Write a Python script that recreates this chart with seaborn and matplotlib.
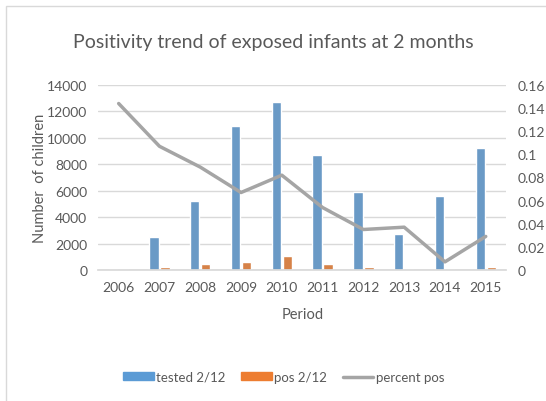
import numpy as np
import pandas as pd
import matplotlib
matplotlib.use("Agg")
import matplotlib.pyplot as plt
import seaborn as sns
from matplotlib.patches import Patch, Rectangle
from matplotlib.lines import Line2D

# 数据
years = ["2006", "2007", "2008", "2009", "2010", "2011", "2012", "2013", "2014", "2015"]
tested = [0, 2500, 5200, 10900, 12700, 8700, 5900, 2750, 5600, 9200]
pos = [0, 200, 450, 600, 1030, 450, 200, 0, 0, 200]
percent_pos = [0.144, 0.107, 0.089, 0.067, 0.082, 0.054, 0.035, 0.037, 0.007, 0.029]

blue = "#5B9BD5"
orange = "#ED7D31"
grey = "#A5A5A5"
txt = "#595959"

sns.set_theme(style="white")
plt.rcParams['font.family'] = ['Lato', 'DejaVu Sans']

df = pd.DataFrame({"Period": years * 2,
                   "value": tested + pos,
                   "series": ["tested 2/12"] * len(years) + ["pos 2/12"] * len(years)})

fig = plt.figure(figsize=(5.46, 4.02), dpi=100)
ax = fig.add_axes([0.18, 0.326, 0.747, 0.46])

# 柱状图
sns.barplot(data=df, x="Period", y="value", hue="series",
            palette=[blue, orange], width=0.54, gap=0.15, ax=ax, legend=False)
ax.set_ylim(0, 14000)
ax.set_yticks(range(0, 14001, 2000))
ax.yaxis.grid(True, color="#D9D9D9", linewidth=1)
ax.set_axisbelow(True)
for s in ax.spines.values():
    s.set_visible(False)
ax.spines["bottom"].set_visible(True)
ax.spines["bottom"].set_color("#D9D9D9")
ax.tick_params(axis="both", colors=txt, labelsize=10, length=0, pad=8)
ax.set_ylabel("Number  of children", color=txt, fontsize=10.5, labelpad=0)
ax.set_xlabel("Period", color=txt, fontsize=10.5, labelpad=10)
ax.set_xlim(-0.5, len(years) - 0.5)

# 折线图（右轴）
ax2 = ax.twinx()
sns.lineplot(x=np.arange(len(years)), y=percent_pos, color=grey, linewidth=2.5, ax=ax2)
ax2.set_ylim(0, 0.16)
ax2.set_yticks([0, 0.02, 0.04, 0.06, 0.08, 0.1, 0.12, 0.14, 0.16])
ax2.set_yticklabels(["0", "0.02", "0.04", "0.06", "0.08", "0.1", "0.12", "0.14", "0.16"])
for s in ax2.spines.values():
    s.set_visible(False)
ax2.tick_params(axis="y", colors=txt, labelsize=10, length=0, pad=8)

fig.suptitle("Positivity trend of exposed infants at 2 months", y=0.915,
             fontsize=14, color=txt)

handles = [Patch(color=blue), Patch(color=orange), Line2D([], [], color=grey, linewidth=2.5)]
fig.legend(handles, ["tested 2/12", "pos 2/12", "percent pos"], loc="center",
           bbox_to_anchor=(0.52, 0.06), ncol=3, frameon=False, fontsize=9.5,
           labelcolor=txt, handlelength=2.3, handleheight=0.5, handletextpad=0.2,
           columnspacing=1.2)

fig.patches.append(Rectangle((0.011, -0.05), 1.1, 1.033, transform=fig.transFigure,
                             fill=False, edgecolor="#D9D9D9", linewidth=1))

fig.savefig("out.png", dpi=100)
